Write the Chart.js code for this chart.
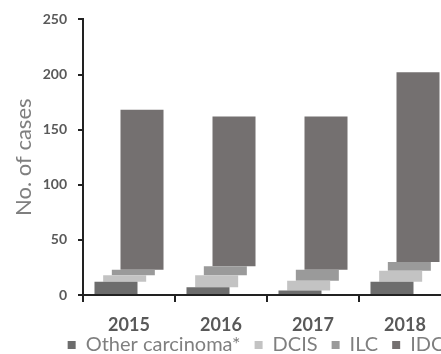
<!DOCTYPE html>
<html>
<head>
<meta charset="utf-8">
<script src="https://cdn.jsdelivr.net/npm/chart.js@4/dist/chart.umd.min.js"></script>
<style>
  html, body { margin: 0; padding: 0; background: #fff; overflow: hidden; }
  #wrap { width: 441px; height: 354px; overflow: hidden; position: relative; }
  #c { position: absolute; left: 0; top: 0; }
</style>
</head>
<body>
<div id="wrap"><canvas id="c" width="512" height="365"></canvas></div>
<script>
// Breast carcinoma cases per year, by histological type
const years = ['2015', '2016', '2017', '2018'];
const otherCarcinoma = [12, 7, 4, 12];
const dcis = [6, 11, 9, 10];
const ilc = [5, 8, 10, 8];
const idc = [145, 136, 139, 172];
const yTicks = [0, 50, 100, 150, 200, 250];

const seriesNames = ['Other carcinoma*', 'DCIS', 'ILC', 'IDC'];
const seriesValues = [otherCarcinoma, dcis, ilc, idc];
const seriesColors = ['#6d6d6d', '#c3c3c3', '#9a9a9a', '#747070'];

const FONT = 'Lato, "Open Sans", sans-serif';
const PLOT_RIGHT = 451;   // right edge of the plotting area inside the canvas
const CANVAS_W = 512;

new Chart(document.getElementById('c'), {
  type: 'bar',
  data: {
    labels: years,
    datasets: seriesNames.map((name, i) => ({
      label: name,
      data: seriesValues[i],
      backgroundColor: seriesColors[i],
      borderWidth: 0,
      categoryPercentage: 0.377,
      barPercentage: 4.96
    }))
  },
  options: {
    responsive: false,
    animation: false,
    devicePixelRatio: 1,
    layout: { padding: { top: 19, left: 0, right: 0, bottom: 0 } },
    plugins: {
      tooltip: { enabled: false },
      legend: {
        position: 'bottom',
        align: 'center',
        labels: {
          boxWidth: 8,
          boxHeight: 8,
          padding: 14,
          color: '#7f7f7f',
          font: { family: FONT, size: 20 }
        }
      }
    },
    scales: {
      x: {
        stacked: false,
        grid: {
          display: true,
          drawOnChartArea: false,
          drawTicks: true,
          tickLength: 7,
          color: '#222',
          lineWidth: 2
        },
        border: { display: true, color: '#222', width: 2 },
        ticks: {
          // mirrored so the labels are not clipped to the compact axis box
          mirror: true,
          padding: -41,
          color: '#595959',
          font: { family: FONT, size: 18, weight: 'bold' }
        },
        afterFit(scale) { scale.height = 26; }
      },
      y: {
        stacked: true,
        min: 0,
        max: 250,
        afterBuildTicks(scale) { scale.ticks = yTicks.map(v => ({ value: v })); },
        grid: {
          display: true,
          drawOnChartArea: false,
          drawTicks: true,
          tickLength: 5,
          color: '#222',
          lineWidth: 2
        },
        border: { display: true, color: '#222', width: 2 },
        ticks: {
          color: '#595959',
          padding: 11,
          font: { family: FONT, size: 14, weight: 'bold' }
        },
        title: {
          display: true,
          text: 'No. of cases',
          color: '#7f7f7f',
          padding: { top: 11, bottom: 0 },
          font: { family: FONT, size: 22 }
        },
        afterFit(scale) { scale.width = 83; }
      },
      // empty right-hand spacer so the legend stays centred on the full canvas
      spacer: {
        type: 'linear',
        position: 'right',
        display: true,
        grid: { display: false },
        border: { display: false },
        ticks: { display: false },
        afterFit(scale) { scale.width = CANVAS_W - PLOT_RIGHT; }
      }
    }
  }
});
</script>
</body>
</html>
